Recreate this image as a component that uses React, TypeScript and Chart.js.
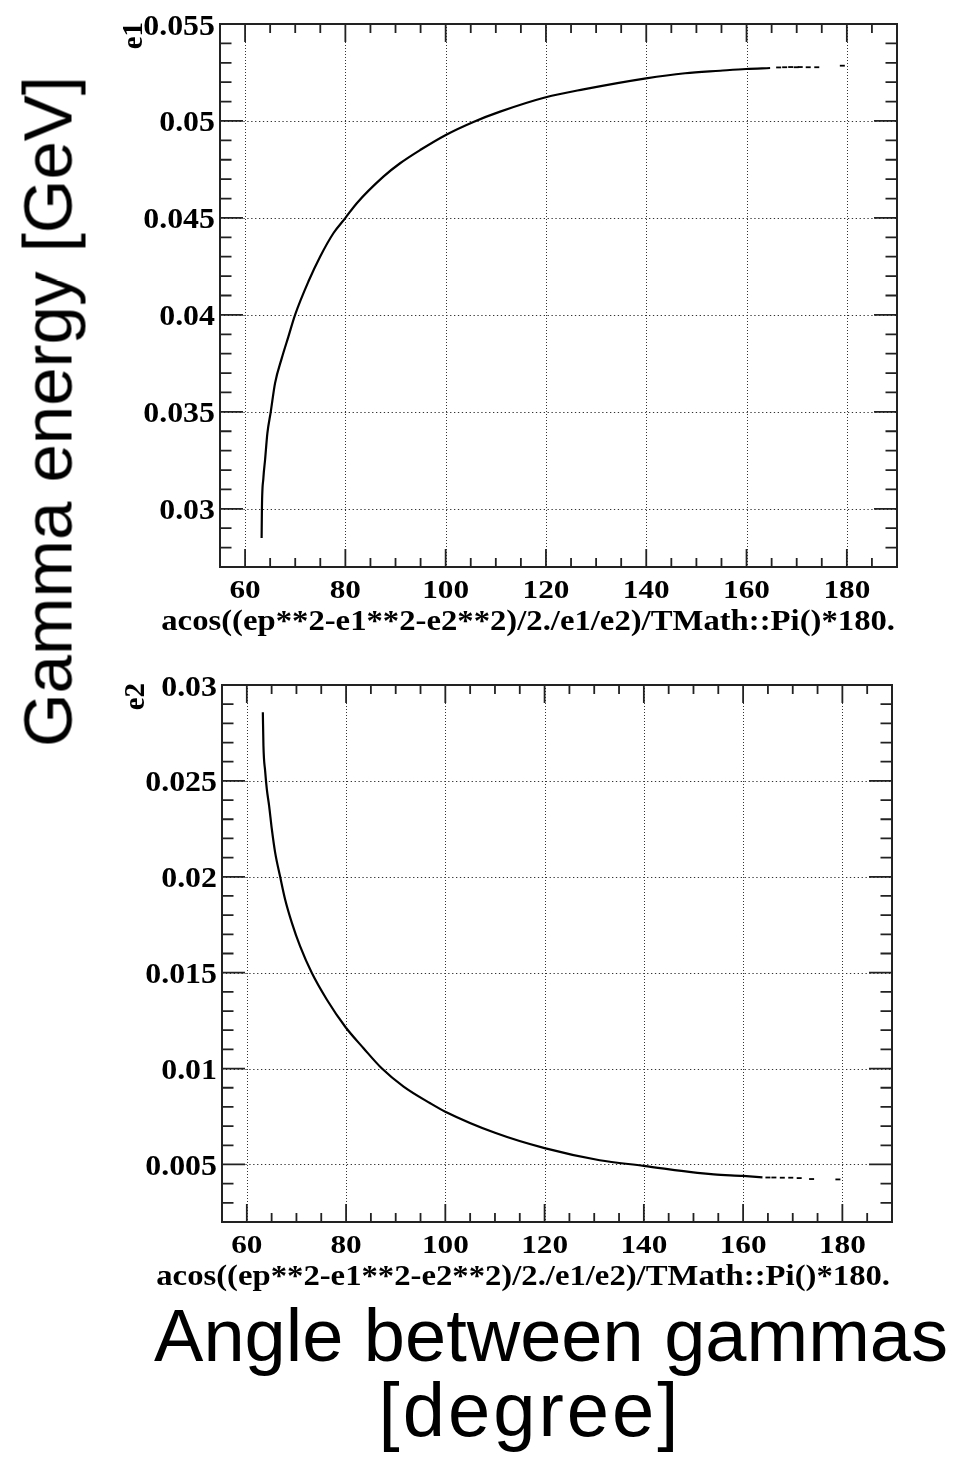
import React, { useEffect, useRef } from 'react';
import { Chart, registerables } from 'chart.js';

Chart.register(...registerables);

// ---------- data ----------
const X_MIN = 55;
const X_MAX = 190;
const X_MAJOR = [60, 80, 100, 120, 140, 160, 180];
const X_LABELS = ['60', '80', '100', '120', '140', '160', '180'];
const X_TITLE = 'acos((ep**2-e1**2-e2**2)/2./e1/e2)/TMath::Pi()*180.';

const Y1_MIN = 0.027;
const Y1_MAX = 0.055;
const Y1_MAJOR = [0.03, 0.035, 0.04, 0.045, 0.05, 0.055];
const Y1_LABELS = ['0.03', '0.035', '0.04', '0.045', '0.05', '0.055'];
const Y1_TITLE = 'e1';

const Y2_MIN = 0.002;
const Y2_MAX = 0.03;
const Y2_MAJOR = [0.005, 0.01, 0.015, 0.02, 0.025, 0.03];
const Y2_LABELS = ['0.005', '0.01', '0.015', '0.02', '0.025', '0.03'];
const Y2_TITLE = 'e2';

// e1 vs opening angle (continuous band)
const E1_ANGLE = [63.30, 63.36, 63.65, 63.99, 64.45, 65.12, 65.98, 67.32, 68.64, 69.97, 72.63, 74.96, 77.61, 79.94, 82.28, 87.58, 90.91, 94.9, 100.03, 105.53, 110.86, 119.97, 127.47, 139.97, 147.75, 154.73, 159.92, 164.7];
const E1_VALUE = [0.02849, 0.03003, 0.03158, 0.03253, 0.0339, 0.035, 0.03648, 0.03777, 0.03888, 0.04, 0.04172, 0.0430, 0.04421, 0.04498, 0.04576, 0.04713, 0.04782, 0.0485, 0.04928, 0.04995, 0.05048, 0.05122, 0.05163, 0.0522, 0.05246, 0.05259, 0.05268, 0.05273];
// sparse entries at the end of e1
const E1_TAIL_ANGLE = [166.4, 167.6, 168.8, 169.9, 170.7, 172.3, 174.0, 179.1];
const E1_TAIL_VALUE = [0.05276, 0.05277, 0.05278, 0.05277, 0.05278, 0.05277, 0.05277, 0.05285];

// e2 vs opening angle
const E2_ANGLE = [63.23, 63.35, 63.69, 64.03, 64.5, 65.04, 65.71, 66.72, 67.72, 69.08, 70.75, 73.11, 76.14, 79.83, 83.52, 87.23, 91.59, 96.97, 100, 110, 120, 131.1, 140, 150.8, 154.1, 160, 163.9];
const E2_VALUE = [0.02858, 0.02683, 0.02552, 0.02457, 0.02369, 0.02248, 0.02126, 0.0200, 0.01882, 0.0176, 0.01637, 0.01498, 0.01359, 0.01218, 0.01106, 0.0100, 0.00906, 0.00819, 0.00775, 0.00665, 0.00585, 0.00522, 0.00493, 0.00456, 0.00448, 0.0044, 0.00433];
const E2_TAIL_ANGLE = [165.0, 166.2, 167.9, 169.6, 171.3, 173.8, 179.1];
const E2_TAIL_VALUE = [0.00432, 0.00432, 0.00431, 0.00431, 0.00429, 0.00424, 0.00422];

// ---------- drawing helpers ----------
const SERIF = '"Liberation Serif", "Times New Roman", serif';
const X_LABEL_FONT = `bold 25px ${SERIF}`;
const X_LABEL_SX = 1.25;
const Y_LABEL_FONT = `bold 29px ${SERIF}`;
const Y_LABEL_SX = 1.1;
const TITLE_FONT = `bold 30px ${SERIF}`;
const TITLE_SX = 1.09;

function scaledText(ctx: CanvasRenderingContext2D, text: string, x: number, y: number, align: CanvasTextAlign, sx: number) {
  ctx.save();
  ctx.translate(x, y);
  ctx.scale(sx, 1);
  ctx.textAlign = align;
  ctx.textBaseline = 'alphabetic';
  ctx.fillText(text, 0, 0);
  ctx.restore();
}

const rootFramePlugin = {
  id: 'rootFrame',
  beforeDatasetsDraw(chart: any, _args: any, opts: any) {
    const { ctx, chartArea: a, scales } = chart;
    const x = scales.x;
    const y = scales.y;
    ctx.save();
    ctx.strokeStyle = '#333';
    ctx.lineWidth = 1;
    ctx.setLineDash([1, 2]);
    for (const v of opts.xMajor) {
      const px = Math.round(x.getPixelForValue(v)) + 0.5;
      ctx.beginPath();
      ctx.moveTo(px, a.top);
      ctx.lineTo(px, a.bottom);
      ctx.stroke();
    }
    ctx.setLineDash([1.3, 2.6]);
    for (const v of opts.yMajor) {
      const py = Math.round(y.getPixelForValue(v)) + 0.5;
      if (py <= a.top + 1.5 || py >= a.bottom - 1.5) continue;
      ctx.beginPath();
      ctx.moveTo(a.left, py);
      ctx.lineTo(a.right, py);
      ctx.stroke();
    }
    ctx.restore();
  },
  afterDatasetsDraw(chart: any, _args: any, opts: any) {
    const { ctx, chartArea: a, scales } = chart;
    const x = scales.x;
    const y = scales.y;
    ctx.save();
    ctx.strokeStyle = '#222';
    ctx.lineWidth = 1.8;
    ctx.setLineDash([]);
    // x ticks (bottom and top, inward)
    const xs = opts.xMinorStep;
    for (let k = Math.ceil(x.min / xs); k * xs <= x.max; k++) {
      const v = k * xs;
      const major = opts.xMajor.some((m: number) => Math.abs(m - v) < 1e-9);
      const len = major ? 18 : 9;
      const px = x.getPixelForValue(v);
      if (px <= a.left + 1 || px >= a.right - 1) continue;
      ctx.beginPath();
      ctx.moveTo(px, a.bottom);
      ctx.lineTo(px, a.bottom - len);
      ctx.moveTo(px, a.top);
      ctx.lineTo(px, a.top + len);
      ctx.stroke();
    }
    // y ticks (left and right, inward)
    const ys = opts.yMinorStep;
    for (let k = Math.ceil(y.min / ys - 1e-6); k * ys <= y.max + 1e-9; k++) {
      const v = k * ys;
      const major = opts.yMajor.some((m: number) => Math.abs(m - v) < 1e-9);
      const len = major ? 23 : 11.5;
      const py = y.getPixelForValue(v);
      if (py <= a.top + 1 || py >= a.bottom - 1) continue;
      ctx.beginPath();
      ctx.moveTo(a.left, py);
      ctx.lineTo(a.left + len, py);
      ctx.moveTo(a.right, py);
      ctx.lineTo(a.right - len, py);
      ctx.stroke();
    }
    // frame
    ctx.lineWidth = 2;
    ctx.strokeRect(a.left, a.top, a.right - a.left, a.bottom - a.top);

    // labels
    ctx.fillStyle = '#000';
    ctx.font = X_LABEL_FONT;
    opts.xMajor.forEach((v: number, i: number) => {
      scaledText(ctx, opts.xLabels[i], x.getPixelForValue(v), a.bottom + 31, 'center', X_LABEL_SX);
    });
    ctx.font = Y_LABEL_FONT;
    opts.yMajor.forEach((v: number, i: number) => {
      scaledText(ctx, opts.yLabels[i], a.left - 5, y.getPixelForValue(v) + 10.5, 'right', Y_LABEL_SX);
    });
    // x title, right aligned to the axis end
    ctx.font = TITLE_FONT;
    scaledText(ctx, opts.xTitle, a.right - 2, a.bottom + 63, 'right', TITLE_SX);
    // y title, rotated, right aligned to the axis top
    ctx.font = Y_LABEL_FONT;
    ctx.save();
    ctx.translate(a.left - 78, a.top - 2);
    ctx.rotate(-Math.PI / 2);
    ctx.scale(1, 1.03);
    ctx.textAlign = 'right';
    ctx.textBaseline = 'alphabetic';
    ctx.fillText(opts.yTitle, 0, 0);
    ctx.restore();
    ctx.restore();
  },
};

function points(xs: number[], ys: number[]) {
  return xs.map((v, i) => ({ x: v, y: ys[i] }));
}

function makeConfig(
  line: { x: number; y: number }[],
  tail: { x: number; y: number }[],
  yMin: number,
  yMax: number,
  padding: { left: number; right: number; top: number; bottom: number },
  frame: any
): any {
  return {
    type: 'line',
    data: {
      datasets: [
        {
          data: line,
          borderColor: '#000',
          borderWidth: 2.2,
          pointRadius: 0,
          cubicInterpolationMode: 'monotone',
          fill: false,
        },
        {
          data: tail,
          showLine: false,
          pointStyle: 'line',
          pointRadius: 2.5,
          borderWidth: 1.8,
          borderColor: '#000',
          backgroundColor: '#000',
        },
      ],
    },
    options: {
      animation: false,
      responsive: false,
      maintainAspectRatio: false,
      events: [],
      layout: { padding },
      plugins: {
        legend: { display: false },
        tooltip: { enabled: false },
        rootFrame: frame,
      },
      scales: {
        x: { type: 'linear', min: X_MIN, max: X_MAX, display: false },
        y: { type: 'linear', min: yMin, max: yMax, display: false },
      },
    },
    plugins: [rootFramePlugin],
  };
}

const SANS = '"Liberation Sans", Arial, Helvetica, sans-serif';

export default function App() {
  const ref1 = useRef<HTMLCanvasElement>(null);
  const ref2 = useRef<HTMLCanvasElement>(null);

  useEffect(() => {
    const c1 = new Chart(
      ref1.current as HTMLCanvasElement,
      makeConfig(
        points(E1_ANGLE, E1_VALUE),
        points(E1_TAIL_ANGLE, E1_TAIL_VALUE),
        Y1_MIN,
        Y1_MAX,
        { left: 220, right: 63, top: 24, bottom: 83 },
        {
          xMajor: X_MAJOR,
          xLabels: X_LABELS,
          yMajor: Y1_MAJOR,
          yLabels: Y1_LABELS,
          xTitle: X_TITLE,
          yTitle: Y1_TITLE,
          xMinorStep: 5,
          yMinorStep: 0.001,
        }
      )
    );
    const c2 = new Chart(
      ref2.current as HTMLCanvasElement,
      makeConfig(
        points(E2_ANGLE, E2_VALUE),
        points(E2_TAIL_ANGLE, E2_TAIL_VALUE),
        Y2_MIN,
        Y2_MAX,
        { left: 222, right: 68, top: 35, bottom: 78 },
        {
          xMajor: X_MAJOR,
          xLabels: X_LABELS,
          yMajor: Y2_MAJOR,
          yLabels: Y2_LABELS,
          xTitle: X_TITLE,
          yTitle: Y2_TITLE,
          xMinorStep: 5,
          yMinorStep: 0.001,
        }
      )
    );
    return () => {
      c1.destroy();
      c2.destroy();
    };
  }, []);

  return (
    <div
      style={{
        position: 'absolute',
        left: 0,
        top: 0,
        width: 960,
        height: 1462,
        background: '#fff',
        overflow: 'hidden',
      }}
    >
      <canvas
        ref={ref1}
        width={960}
        height={650}
        style={{ position: 'absolute', left: 0, top: 0, width: 960, height: 650 }}
      />
      <canvas
        ref={ref2}
        width={960}
        height={650}
        style={{ position: 'absolute', left: 0, top: 650, width: 960, height: 650 }}
      />
      <div
        style={{
          position: 'absolute',
          left: 48 - 380,
          top: 411 - 34.5,
          width: 760,
          height: 69,
          lineHeight: '69px',
          fontSize: 69,
          fontFamily: SANS,
          color: '#000',
          textAlign: 'center',
          whiteSpace: 'nowrap',
          transform: 'rotate(-90deg)',
          transformOrigin: '50% 50%',
        }}
      >
        Gamma energy [GeV]
      </div>
      <div
        style={{
          position: 'absolute',
          left: 551 - 500,
          top: 1299,
          width: 1000,
          height: 74,
          lineHeight: '74px',
          fontSize: 74,
          fontFamily: SANS,
          color: '#000',
          textAlign: 'center',
          whiteSpace: 'nowrap',
        }}
      >
        Angle between gammas
      </div>
      <div
        style={{
          position: 'absolute',
          left: 530 - 500,
          top: 1372,
          width: 1000,
          height: 76,
          lineHeight: '76px',
          fontSize: 76,
          letterSpacing: '3px',
          fontFamily: SANS,
          color: '#000',
          textAlign: 'center',
          whiteSpace: 'nowrap',
        }}
      >
        [degree]
      </div>
    </div>
  );
}
